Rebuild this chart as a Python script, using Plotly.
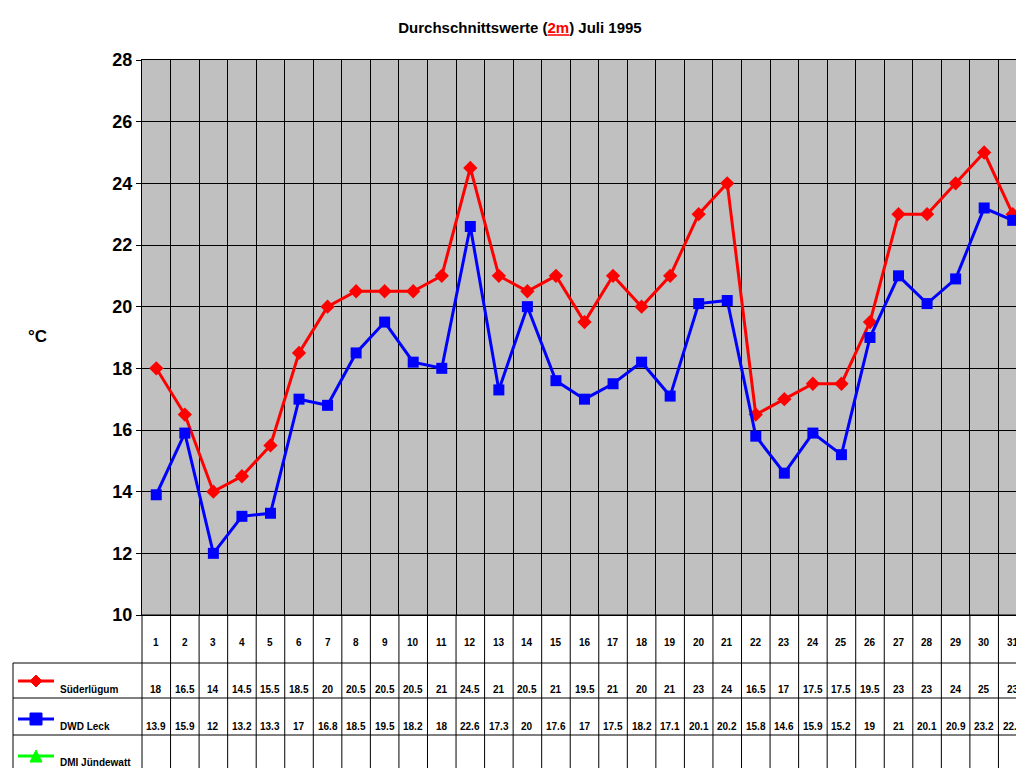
import plotly.graph_objects as go

days = list(range(1, 32))
suederluegum = [18, 16.5, 14, 14.5, 15.5, 18.5, 20, 20.5, 20.5, 20.5, 21, 24.5, 21, 20.5, 21, 19.5,
                21, 20, 21, 23, 24, 16.5, 17, 17.5, 17.5, 19.5, 23, 23, 24, 25, 23]
dwd_leck = [13.9, 15.9, 12, 13.2, 13.3, 17, 16.8, 18.5, 19.5, 18.2, 18, 22.6, 17.3, 20, 17.6, 17,
            17.5, 18.2, 17.1, 20.1, 20.2, 15.8, 14.6, 15.9, 15.2, 19, 21, 20.1, 20.9, 23.2, 22.8]
dmi = [None] * 31
series_names = ["Süderlügum", "DWD Leck", "DMI Jündewatt"]
series_colors = ["#FF0000", "#0000FF", "#00FF00"]

W, H = 1024, 768
L, R, T, B = 134, 1019, 52, 607
FONT = "Liberation Sans, Arial"

def px(p):
    return (p - L) / (R - L)

def py(p):
    return (B - p) / (B - T)

fig = go.Figure()
fig.add_trace(go.Scatter(x=days, y=suederluegum, mode="lines+markers", name=series_names[0],
                         line=dict(color=series_colors[0], width=3),
                         marker=dict(symbol="diamond", size=11, color=series_colors[0])))
fig.add_trace(go.Scatter(x=days, y=dwd_leck, mode="lines+markers", name=series_names[1],
                         line=dict(color=series_colors[1], width=3),
                         marker=dict(symbol="square", size=11, color=series_colors[1])))
fig.add_trace(go.Scatter(x=days, y=dmi, mode="lines+markers", name=series_names[2],
                         line=dict(color=series_colors[2], width=3),
                         marker=dict(symbol="triangle-up", size=11, color=series_colors[2])))

shapes = []
ann = []
# table grid
rows = [607, 655, 690, 727, 762]
for i, yp in enumerate(rows):
    x0 = px(134) if i == 0 else px(5)
    shapes.append(dict(type="line", xref="paper", yref="paper", x0=x0, x1=1, y0=py(yp), y1=py(yp),
                       line=dict(color="black", width=1)))
shapes.append(dict(type="line", xref="paper", yref="paper", x0=px(5), x1=px(5), y0=py(655), y1=py(762),
                   line=dict(color="black", width=1)))
for i in range(32):
    xx = i / 31
    shapes.append(dict(type="line", xref="paper", yref="paper", x0=xx, x1=xx, y0=py(607), y1=py(762),
                       line=dict(color="black", width=1)))

def fmt(v):
    return "" if v is None else ("%g" % v)

for i, d in enumerate(days):
    xc = (i + 0.5) / 31
    ann.append(dict(x=xc, y=py(634), text=str(d)))
    ann.append(dict(x=xc, y=py(681), text=fmt(suederluegum[i])))
    ann.append(dict(x=xc, y=py(718), text=fmt(dwd_leck[i])))
    ann.append(dict(x=xc, y=py(754), text=fmt(dmi[i])))

# legend keys in table
key_y = [673, 711, 748]
label_y = [681, 718, 754]
for k in range(3):
    c = series_colors[k]
    yk = py(key_y[k])
    shapes.append(dict(type="line", xref="paper", yref="paper", x0=px(10), x1=px(46), y0=yk, y1=yk,
                       line=dict(color=c, width=3)))
    cx, s = px(28), 6
    dx, dy = s / (R - L), s / (B - T)
    if k == 0:
        path = f"M{cx},{yk+dy} L{cx+dx},{yk} L{cx},{yk-dy} L{cx-dx},{yk} Z"
    elif k == 1:
        path = f"M{cx-dx},{yk+dy} L{cx+dx},{yk+dy} L{cx+dx},{yk-dy} L{cx-dx},{yk-dy} Z"
    else:
        path = f"M{cx},{yk+dy} L{cx+dx},{yk-dy} L{cx-dx},{yk-dy} Z"
    shapes.append(dict(type="path", xref="paper", yref="paper", path=path, fillcolor=c,
                       line=dict(color=c, width=1)))
    ann.append(dict(x=px(50), y=py(label_y[k]), text=series_names[k], xanchor="left"))

annotations = []
for a in ann:
    base = dict(xref="paper", yref="paper", showarrow=False, xanchor="center", yanchor="middle",
                font=dict(family=FONT, size=10, color="black"))
    base.update(a)
    base["text"] = "<b>" + base["text"] + "</b>" if base["text"] else ""
    annotations.append(base)
annotations.append(dict(xref="paper", yref="paper", x=px(18), y=py(328), text="<b>°C</b>",
                        showarrow=False, font=dict(family=FONT, size=17, color="black")))

fig.update_layout(
    width=W, height=H,
    margin=dict(l=L, r=W - R, t=T, b=H - B),
    paper_bgcolor="white", plot_bgcolor="#C0C0C0",
    showlegend=False,
    title=dict(text="<b>Durchschnittswerte (<span style='color:red;text-decoration:underline'>2m</span>) Juli 1995</b>",
               x=0.5, xanchor="center", y=1 - 20 / H, yanchor="middle",
               font=dict(family=FONT, size=15, color="black")),
    xaxis=dict(range=[0.5, 31.5], tickvals=[i + 0.5 for i in range(32)], showticklabels=False,
               showgrid=True, gridcolor="black", gridwidth=1, zeroline=False,
               showline=True, linecolor="black", mirror=True, ticks=""),
    yaxis=dict(range=[10, 28], dtick=2, showgrid=True, gridcolor="black", gridwidth=1, zeroline=False,
               showline=True, linecolor="black", mirror=True, ticks="outside", ticklen=5,
               tickcolor="black", tickfont=dict(family=FONT, size=18, color="black"),
               tickprefix="<b>", ticksuffix="</b>"),
    shapes=shapes, annotations=annotations,
)
fig.write_html("out.html")
